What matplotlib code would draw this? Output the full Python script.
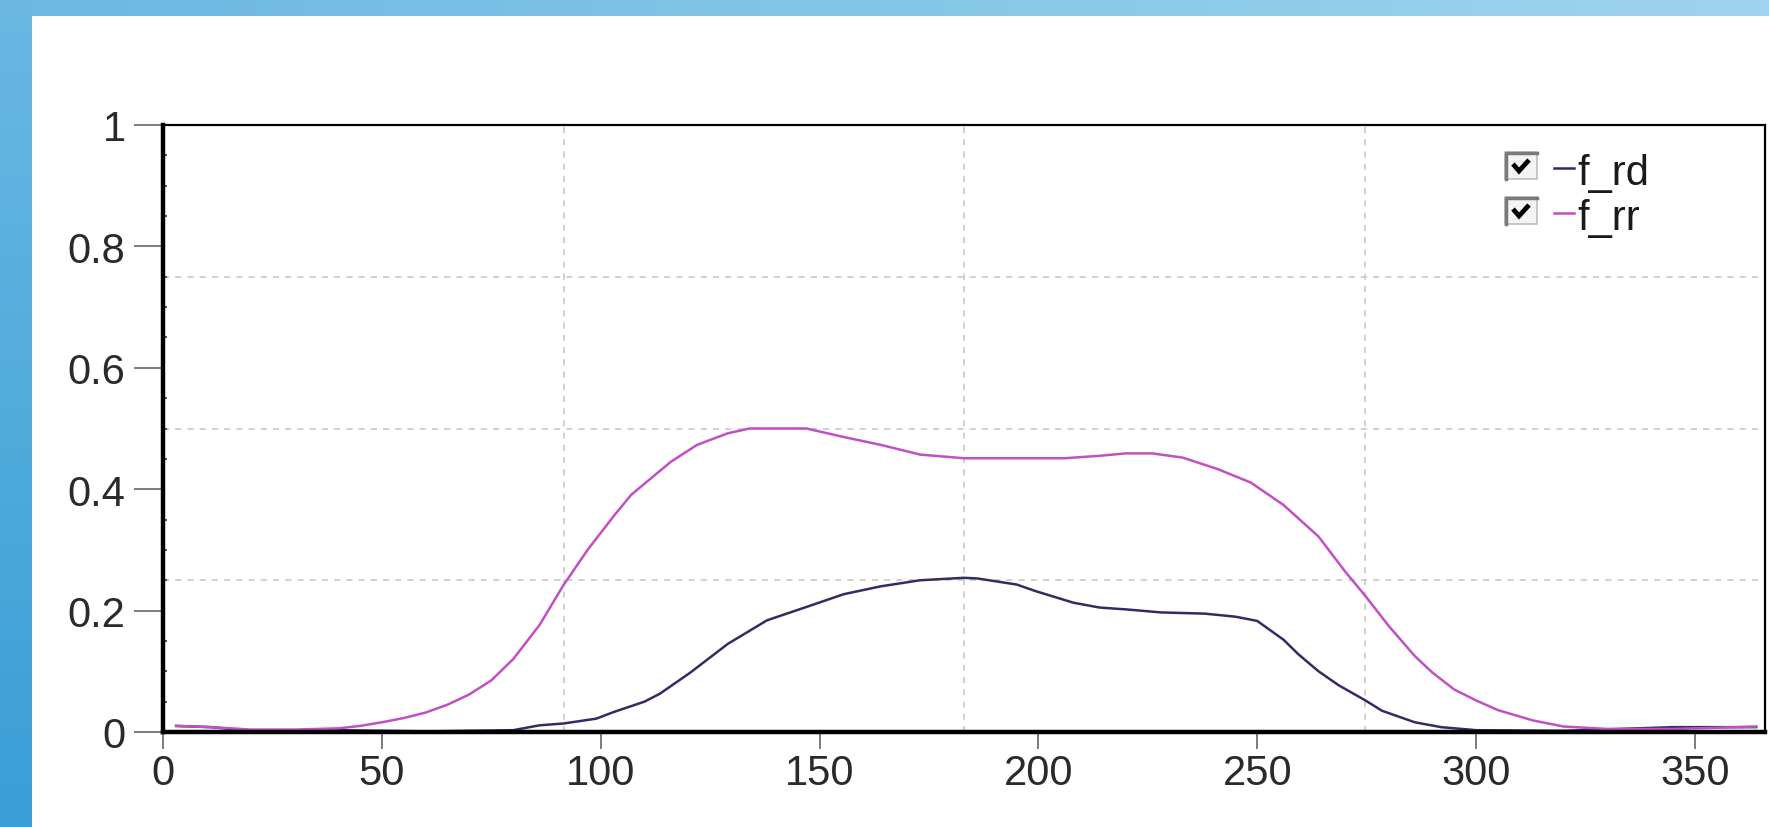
import numpy as np
import matplotlib
matplotlib.use('Agg')
import matplotlib.pyplot as plt
from matplotlib.patches import Rectangle
from matplotlib.lines import Line2D

plt.rcParams['font.family'] = ['Liberation Sans', 'DejaVu Sans']

# values
x_rr = [3, 11, 20, 30, 40, 45, 50, 55, 60, 65, 70, 75, 80, 86, 91.5, 97, 103, 107, 116, 122,
        129, 134, 147, 155.5, 164, 173, 183, 206, 214, 220, 226, 233, 241, 248.5, 256, 264,
        270, 274.6, 280, 286, 290, 295, 300, 305, 313, 320, 330, 345, 364]
f_rr = [0.010, 0.008, 0.004, 0.004, 0.006, 0.010, 0.016, 0.023, 0.032, 0.045, 0.062, 0.085,
        0.120, 0.176, 0.242, 0.300, 0.356, 0.391, 0.445, 0.473, 0.492, 0.500, 0.500, 0.486,
        0.473, 0.457, 0.451, 0.451, 0.455, 0.459, 0.459, 0.452, 0.433, 0.411, 0.374, 0.322,
        0.265, 0.225, 0.175, 0.125, 0.098, 0.070, 0.052, 0.036, 0.019, 0.009, 0.005, 0.005, 0.009]

x_rd = [3, 11, 20, 40, 60, 80, 86, 91.5, 99, 103, 110, 113.5, 120.5, 129, 138, 147, 155.5,
        164, 173, 183, 186, 195, 199.4, 208, 214, 220, 228, 238, 245, 250, 256, 259.4, 264,
        268.6, 274.7, 278.5, 286, 292, 300, 320, 345, 364]
f_rd = [0.010, 0.008, 0.002, 0.003, 0.001, 0.003, 0.011, 0.014, 0.022, 0.033, 0.050, 0.063,
        0.098, 0.145, 0.184, 0.206, 0.227, 0.240, 0.250, 0.254, 0.253, 0.243, 0.232, 0.213,
        0.205, 0.202, 0.197, 0.195, 0.190, 0.183, 0.152, 0.128, 0.100, 0.077, 0.052, 0.035,
        0.016, 0.008, 0.003, 0.002, 0.008, 0.008]

labels = ['f_rd', 'f_rr']
colors = ['#2e2e66', '#c050c4']
xticks = [0, 50, 100, 150, 200, 250, 300, 350]
yticks = [0, 0.2, 0.4, 0.6, 0.8, 1]
ytick_labels = ['0', '0.2', '0.4', '0.6', '0.8', '1']

W, H = 1769, 828
fig = plt.figure(figsize=(W / 100, H / 100), dpi=100, facecolor='white')


def fx(p):
    return p / W


def fy(p):
    return 1 - p / H


# slide background bands
bg = fig.add_axes([0, 0, 1, 1], zorder=-5)
bg.set_xlim(0, W)
bg.set_ylim(H, 0)
bg.axis('off')
c_top = np.array(matplotlib.colors.to_rgb('#6ab8e2'))
c_bot = np.array(matplotlib.colors.to_rgb('#3a9ed7'))
c_right = np.array(matplotlib.colors.to_rgb('#a0d4ee'))
t = np.linspace(0, 1, 200)[:, None]
bg.imshow((c_top * (1 - t) + c_bot * t)[:, None, :], extent=[0, 32, H, 0], aspect='auto')
bg.imshow((c_top * (1 - t) + c_right * t).reshape(1, 200, 3), extent=[0, W, 17, 0],
          aspect='auto')

# main axes
ax = fig.add_axes([fx(163), fy(733), fx(1765 - 163), (733 - 126) / H])
xmin, xmax = 0, 366
ax.set_xlim(xmin, xmax)
ax.set_ylim(0, 1)

for q in (0.25, 0.5, 0.75):
    ax.axvline(xmin + q * (xmax - xmin), color='#c4c4c4', lw=1.1, ls=(0, (4, 4)), zorder=1)
    ax.axhline(q, color='#c4c4c4', lw=1.1, ls=(0, (4, 4)), zorder=1)

ax.plot(x_rd, f_rd, color=colors[0], lw=1.8, zorder=3)
ax.plot(x_rr, f_rr, color=colors[1], lw=1.8, zorder=3)

ax.set_xticks(xticks)
ax.set_yticks(yticks)
ax.set_yticklabels(ytick_labels)
ax.set_yticks(np.arange(0.05, 1, 0.05), minor=True)
ax.tick_params(axis='y', which='major', direction='out', length=21, width=1.2, color='#666666',
               labelsize=30, labelcolor='#2a2a2a', pad=6)
ax.tick_params(axis='y', which='minor', direction='in', length=3, width=1.5, color='#555555')
ax.tick_params(axis='x', which='major', direction='out', length=12, width=1.2, color='#666666',
               labelsize=30, labelcolor='#2a2a2a', pad=3)

ax.spines['left'].set_linewidth(3.2)
ax.spines['bottom'].set_linewidth(3.2)
ax.spines['top'].set_linewidth(1.6)
ax.spines['right'].set_linewidth(1.6)
for s in ax.spines.values():
    s.set_color('black')
    s.set_zorder(4)

# checkbox legend
rows = [153, 198]
for i, top in enumerate(rows):
    bx0, bx1 = 1505, 1537
    by0, by1 = top, top + 27
    fig.add_artist(Rectangle((fx(bx0), fy(by1)), fx(bx1 - bx0), (by1 - by0) / H,
                             transform=fig.transFigure, facecolor='#f4f4f4',
                             edgecolor='#bdbdbd', lw=1.2))
    fig.add_artist(Line2D([fx(bx0 + 1), fx(bx0 + 1), fx(bx1)], [fy(by1), fy(by0 + 1), fy(by0 + 1)],
                          transform=fig.transFigure, color='#7a7a7a', lw=2.5))
    fig.add_artist(Line2D([fx(bx0 + 8), fx(bx0 + 14), fx(bx0 + 24)],
                          [fy(by0 + 12), fy(by0 + 19), fy(by0 + 8)],
                          transform=fig.transFigure, color='black', lw=3.4,
                          solid_capstyle='butt', solid_joinstyle='miter'))
    ly = top + 16
    fig.add_artist(Line2D([fx(1554), fx(1574)], [fy(ly), fy(ly)], transform=fig.transFigure,
                          color=colors[i], lw=1.8))
    fig.text(fx(1577), fy(top + 32), labels[i], fontsize=30, color='#1a1a1a', va='baseline',
             ha='left')

fig.savefig('out.png', dpi=100, facecolor='white')
